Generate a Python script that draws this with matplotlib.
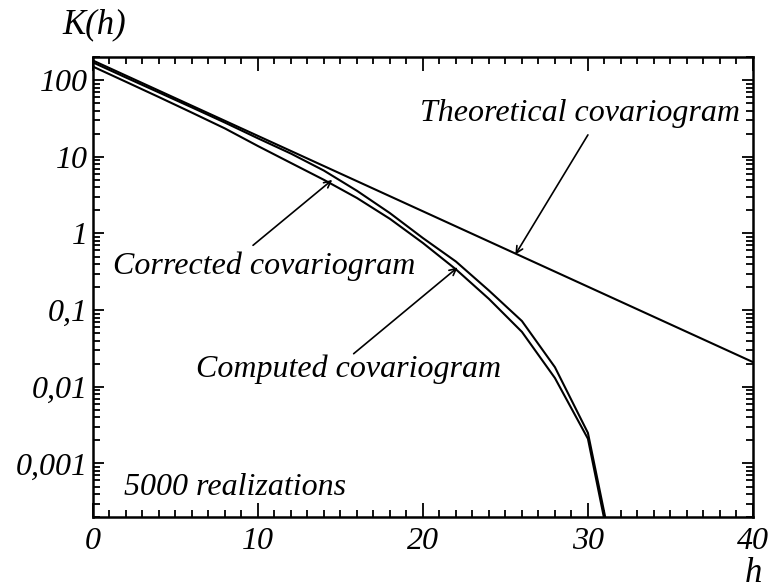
import matplotlib
matplotlib.use("Agg")
import matplotlib.pyplot as plt
from matplotlib.ticker import FixedLocator, FixedFormatter, MultipleLocator, LogLocator, NullFormatter

plt.rcParams["font.family"] = ["Liberation Serif", "DejaVu Serif"]
plt.rcParams["font.style"] = "italic"

# data
h_theo = [0, 40]
k_theo = [180, 0.021]

h_pts = [0, 2, 4, 6, 8, 10, 12, 14, 16, 18, 20, 22, 24, 26, 28, 30, 32]
k_corrected = [170, 108, 69, 44, 27.9, 17.4, 11.0, 6.6, 3.6, 1.84, 0.87,
               0.43, 0.18, 0.072, 0.018, 0.0025, 2e-5]
k_computed = [150, 95, 60, 37.6, 23.4, 13.8, 8.3, 5.0, 2.9, 1.55, 0.75,
              0.34, 0.14, 0.052, 0.013, 0.0021, 1.6e-5]

y_ticks = [100, 10, 1, 0.1, 0.01, 0.001]
y_ticklabels = ["100", "10", "1", "0,1", "0,01", "0,001"]
x_ticks = [0, 10, 20, 30, 40]

fig = plt.figure(figsize=(7.73, 5.88), dpi=100)
ax = fig.add_axes([0.1203, 0.1207, 0.974 - 0.1203, 0.903 - 0.1207])

ax.plot(h_theo, k_theo, color="black", lw=1.5)
ax.plot(h_pts, k_corrected, color="black", lw=1.5)
ax.plot(h_pts, k_computed, color="black", lw=1.5)

ax.set_yscale("log")
ax.set_xlim(0, 40)
ax.set_ylim(2e-4, 200)

ax.xaxis.set_major_locator(FixedLocator(x_ticks))
ax.xaxis.set_minor_locator(MultipleLocator(1))
ax.yaxis.set_major_locator(FixedLocator(y_ticks))
ax.yaxis.set_major_formatter(FixedFormatter(y_ticklabels))
ax.yaxis.set_minor_locator(LogLocator(base=10, subs=range(2, 10)))
ax.yaxis.set_minor_formatter(NullFormatter())

ax.tick_params(which="both", direction="in", top=True, right=True, width=1.3,
               labelsize=23)
ax.tick_params(axis="x", which="major", length=10, pad=7)
ax.tick_params(axis="x", which="minor", length=5)
ax.tick_params(axis="y", which="major", length=8, pad=4)
ax.tick_params(axis="y", which="minor", length=5)
for s in ax.spines.values():
    s.set_linewidth(1.8)

fs = 23
arrow = dict(arrowstyle="->", lw=1.2, color="black", mutation_scale=12,
             shrinkA=0, shrinkB=0)
ax.text(39.2, 37, "Theoretical covariogram", ha="right", va="center", fontsize=fs)
ax.annotate("", xy=(25.6, 0.53), xytext=(30.0, 19.3), arrowprops=arrow)

ax.text(10.4, 0.37, "Corrected covariogram", ha="center", va="center", fontsize=fs)
ax.annotate("", xy=(14.5, 5.0), xytext=(9.7, 0.70), arrowprops=arrow)

ax.text(15.5, 0.017, "Computed covariogram", ha="center", va="center", fontsize=fs)
ax.annotate("", xy=(22.1, 0.36), xytext=(15.8, 0.027), arrowprops=arrow)

ax.text(8.6, 4.8e-4, "5000 realizations", ha="center", va="center", fontsize=fs)

fig.text(94 / 773, 1 - 25 / 588, "K(h)", ha="center", va="center", fontsize=25)
fig.text(753 / 773, 1 - 573 / 588, "h", ha="center", va="center", fontsize=25)

fig.savefig("out.png", dpi=100)
